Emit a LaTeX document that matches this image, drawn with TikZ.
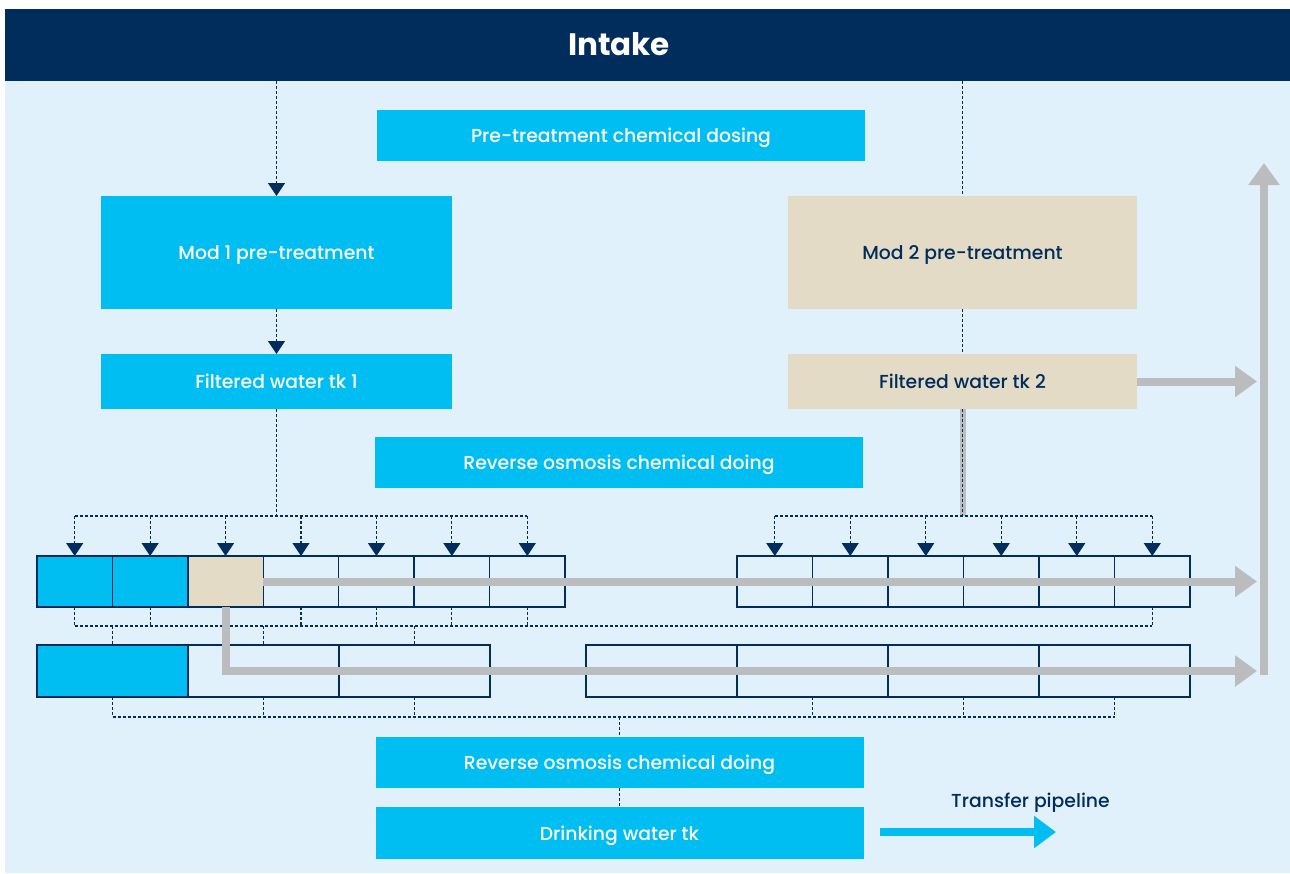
\documentclass[tikz,border=0pt]{standalone}
\usepackage{fontspec}
\setmainfont{Poppins}[UprightFont=* Medium, BoldFont=* Bold]
\usetikzlibrary{arrows.meta}
\definecolor{navy}{RGB}{0,45,91}
\definecolor{cyanbox}{RGB}{0,190,242}
\definecolor{beige}{RGB}{227,219,198}
\definecolor{panel}{RGB}{224,241,251}
\definecolor{pipe}{RGB}{187,188,190}
\tikzset{
  sz/.style 2 args={minimum width=#1*0.5pt, minimum height=#2*0.5pt},
  box/.style={inner sep=0pt, outer sep=0pt, draw=none, font=\fontsize{9.4}{11}\selectfont, align=center, text height=0.7em, text depth=0pt},
  cbox/.style={box, fill=cyanbox, text=white},
  bbox/.style={box, fill=beige, text=navy},
  cell/.style={inner sep=0pt, outer sep=0pt, draw=navy, line width=0.75pt},
  dl/.style={draw=navy, line width=0.6pt, dash pattern=on 1.5pt off 1pt},
  tri/.style={-{Triangle[width=8.5pt,length=6.5pt]}, navy},
  gp/.style={draw=pipe, line width=4pt},
  gpa/.style={gp, -{Triangle[width=15pt,length=11pt]}, pipe},
}
\begin{document}
\begin{tikzpicture}[x=0.5pt,y=-0.5pt]
\useasboundingbox (0,0) rectangle (1290,873);
\fill[white] (0,0) rectangle (1290,873);
\fill[panel] (5,9) rectangle (1290,873);

% header
\node[box, fill=navy, sz={1285}{72}] (intake) at (647.5,45) {};
\node[text=white, inner sep=0pt, font=\fontsize{15.5}{18}\selectfont\bfseries, text height=0.7em, text depth=0pt] (intaketxt) at (619,48) {Intake};

% process boxes
\node[cbox, sz={488}{51}] (pre) at (621,135.5) {Pre-treatment chemical dosing};
\node[cbox, sz={351}{113}] (mod1) at (276.5,252.5) {Mod 1 pre-treatment};
\node[cbox, sz={351}{55}] (ft1) at (276.5,381.5) {Filtered water tk 1};
\node[cbox, sz={488}{51}] (ro1) at (619,462.5) {Reverse osmosis chemical doing};
\node[bbox, sz={349}{113}] (mod2) at (962.5,252.5) {Mod 2 pre-treatment};
\node[bbox, sz={349}{55}] (ft2) at (962.5,381.5) {Filtered water tk 2};
\node[cbox, sz={488}{51}] (ro2) at (619.5,762.5) {Reverse osmosis chemical doing};
\node[cbox, sz={488}{52}] (dw) at (619.5,833) {Drinking water tk};

% RO cells row 1
\foreach \n/\c [count=\i from 0] in {a/cyanbox,b/cyanbox,c/beige,d/panel,e/panel,f/panel,g/panel}
  \node[cell, fill=\c, sz={75.43}{51}] (L\n) at ({37+75.43*(\i+0.5)},581.5) {};
\foreach \n [count=\i from 0] in {a,b,c,d,e,f}
  \node[cell, fill=panel, sz={75.5}{51}] (R\n) at ({737+75.5*(\i+0.5)},581.5) {};
% RO cells row 2
\node[cell, fill=cyanbox, sz={151}{52}] (Ma) at (112.5,671) {};
\node[cell, fill=panel, sz={151}{52}] (Mb) at (263.5,671) {};
\node[cell, fill=panel, sz={151}{52}] (Mc) at (414.5,671) {};
\foreach \n [count=\i from 0] in {a,b,c,d}
  \node[cell, fill=panel, sz={151}{52}] (N\n) at ({586+151*(\i+0.5)},671) {};

% dashed connectors top
\draw[dl, tri] (mod1.north |- intake.south) -- (mod1.north);
\draw[dl, tri] (mod1.south) -- (ft1.north);
\draw[dl] (mod2.north |- intake.south) -- (mod2.north);
\draw[dl] (mod2.south) -- (ft2.north);

% distribution bus left
\coordinate (b1) at (276.5,516);
\draw[dl] (ft1.south) -- (b1);
\draw[dl] (La.north |- b1) -- (Lg.north |- b1);
\foreach \n in {a,b,c,d,e,f,g}
  \draw[dl, tri] (L\n.north |- b1) -- (L\n.north);

% distribution bus right
\coordinate (b2) at (962.5,516);
\draw[draw=pipe, line width=3pt] (ft2.south) -- (b2);
\draw[dl] (ft2.south) -- (b2);
\draw[dl] (Ra.north |- b2) -- (Rf.north |- b2);
\foreach \n in {a,b,c,d,e,f}
  \draw[dl, tri] (R\n.north |- b2) -- (R\n.north);

% between rows
\coordinate (b3) at (0,626);
\draw[dl] (La.south |- b3) -- (Rf.south |- b3);
\foreach \n in {La,Lb,Ld,Le,Lf,Lg,Rf}
  \draw[dl] (\n.south) -- (\n.south |- b3);
\foreach \n in {Ma,Mb,Mc}
  \draw[dl] (\n.north |- b3) -- (\n.north);

% below row 2
\coordinate (b4) at (0,717);
\draw[dl] (Ma.south |- b4) -- (Nd.south |- b4);
\foreach \n in {Ma,Mb,Mc,Nb,Nc,Nd}
  \draw[dl] (\n.south) -- (\n.south |- b4);
\draw[dl] (ro2.north |- b4) -- (ro2.north);
\draw[dl] (ro2.south) -- (dw.north);

% grey pipes
\coordinate (t1) at (1257,581.5);
\coordinate (t2) at (1257,671);
\coordinate (t3) at (1257,381.5);
\coordinate (v1) at (1264,675);
\coordinate (v2) at (1264,163);
\draw[gpa] (Lc.east) -- (t1);
\draw[gpa] (Lc.south) |- (t2);
\draw[gpa] (ft2.east) -- (t3);
\draw[gpa] (v1) -- (v2);

% legend
\node[text=navy, font=\fontsize{9.4}{11}\selectfont, inner sep=0pt, text height=0.7em, text depth=0pt] (tp) at (1030.5,800) {Transfer pipeline};
\coordinate (p1) at (880,832);
\coordinate (p2) at (1056,832);
\draw[draw=cyanbox, line width=4pt, -{Triangle[width=15.5pt,length=11pt]}, cyanbox] (p1) -- (p2);
\end{tikzpicture}
\end{document}
